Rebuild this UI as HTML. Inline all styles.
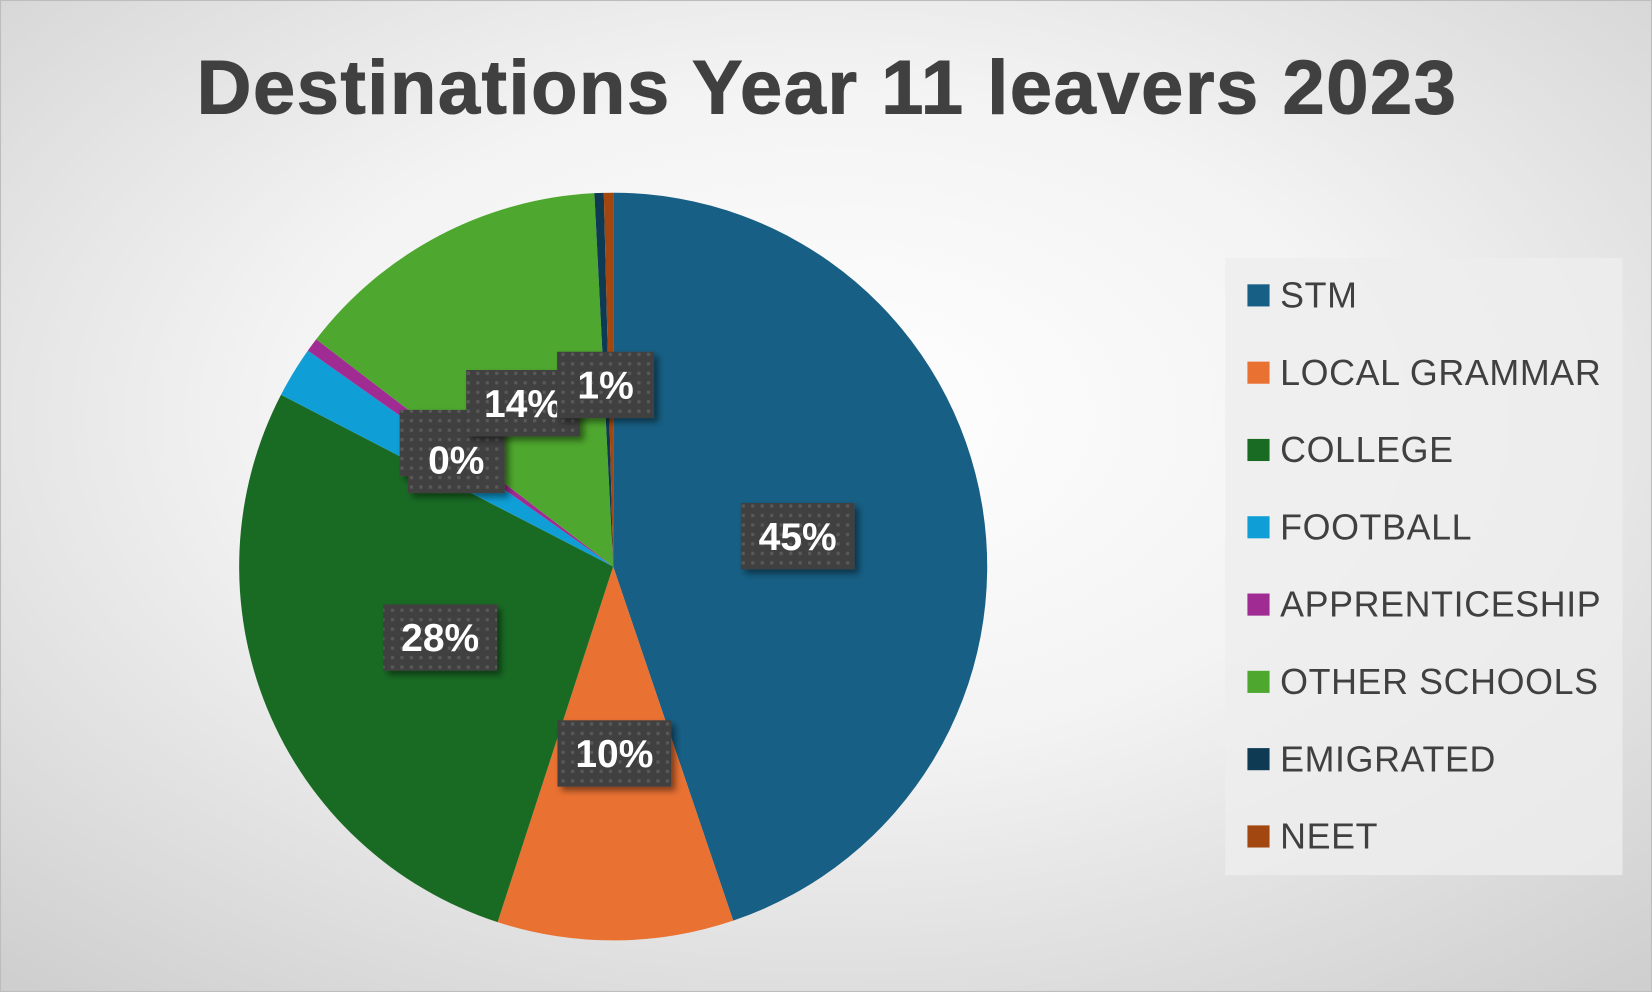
<!DOCTYPE html>
<html><head><meta charset="utf-8"><style>
html,body{margin:0;padding:0;width:1652px;height:992px;overflow:hidden}
svg{display:block}
text{font-family:"Liberation Sans",sans-serif}
</style></head><body>
<svg id="chart" width="1652" height="992" viewBox="0 0 1568 942" preserveAspectRatio="none">
<defs>
<radialGradient id="bg" cx="0.5" cy="0.42" r="0.75">
<stop offset="0" stop-color="#ffffff"/><stop offset="0.45" stop-color="#f3f3f3"/><stop offset="1" stop-color="#cfcfcf"/>
</radialGradient>
<pattern id="dots" width="9" height="9" patternUnits="userSpaceOnUse">
<rect width="9" height="9" fill="#404040"/><rect x="2" y="2" width="3" height="3" fill="#5a5a5a"/>
</pattern>
<filter id="sh" x="-20%" y="-20%" width="150%" height="150%"><feDropShadow dx="4" dy="4" stdDeviation="3" flood-color="#000" flood-opacity="0.45"/></filter>
</defs>
<rect x="0" y="0" width="1568" height="942" fill="url(#bg)" stroke="#bdbdbd" stroke-width="2"/>
<text x="785" y="108" text-anchor="middle" font-size="72" font-weight="bold" letter-spacing="1.5" fill="#404040" stroke="#404040" stroke-width="1">Destinations Year 11 leavers 2023</text>
<g id="slices"></g>
<g id="labels"></g>
<rect x="1163" y="245" width="377" height="586" fill="#eeeeee" opacity="0.8"/>
<g id="legend"></g>
</svg>
<script>
const categories = ["STM","LOCAL GRAMMAR","COLLEGE","FOOTBALL","APPRENTICESHIP","OTHER SCHOOLS","EMIGRATED","NEET"];
const values = [44.8, 10.2, 27.6, 2.2, 0.6, 13.8, 0.4, 0.4];
const valueLabels = ["45%","10%","28%","2%","0%","14%","0%","1%"];
const colors = ["#175f84","#e97132","#196b24","#0f9ed5","#a02b93","#4ea72e","#0e3a54","#a1470f"];
const labelShown = [true,true,true,true,true,true,false,true];
const labelNudge = [[0,0],[0,0],[0,0],[-5,-25],[-6,4],[-3,2],[0,0],[-5,5]];
const NS="http://www.w3.org/2000/svg";
const cx=582, cy=538, r=355;
const total=values.reduce((a,b)=>a+b,0);
const ang=v=>v/total*2*Math.PI;
const pt=(a,rr)=>[cx+rr*Math.sin(a), cy-rr*Math.cos(a)];
const sg=document.getElementById('slices'), lg=document.getElementById('labels'), leg=document.getElementById('legend');
let a0=0; const mids=[];
values.forEach((v,i)=>{
  const a1=a0+ang(v);
  const p0=pt(a0,r), p1=pt(a1,r);
  const p=document.createElementNS(NS,'path');
  p.setAttribute('d',`M${cx},${cy} L${p0[0]},${p0[1]} A${r},${r} 0 ${a1-a0>Math.PI?1:0} 1 ${p1[0]},${p1[1]} Z`);
  p.setAttribute('fill',colors[i]);
  
  
  sg.appendChild(p);
  mids.push((a0+a1)/2); a0=a1;
});
const order=[3,4,0,1,2,5,7];
order.forEach(i=>{
  if(!labelShown[i])return;
  const m=pt(mids[i],r*0.5);
  const x=m[0]+labelNudge[i][0], y=m[1]+labelNudge[i][1];
  const w=valueLabels[i].length>2?108:92, h=63;
  const g=document.createElementNS(NS,'g');
  
  
  const rc=document.createElementNS(NS,'rect');
  rc.setAttribute('x',x-w/2);rc.setAttribute('y',y-h/2);rc.setAttribute('width',w);rc.setAttribute('height',h);
  rc.setAttribute('fill','url(#dots)');rc.setAttribute('filter','url(#sh)');
  g.appendChild(rc);
  const t=document.createElementNS(NS,'text');
  t.setAttribute('x',x);t.setAttribute('y',y+13);t.setAttribute('text-anchor','middle');
  t.setAttribute('font-size','37');t.setAttribute('font-weight','bold');t.setAttribute('fill','#fff');
  t.textContent=valueLabels[i];
  g.appendChild(t);
  lg.appendChild(g);
});
categories.forEach((c,i)=>{
  const y=280+i*73.4;
  const g=document.createElementNS(NS,'g');
  
  
  const s=document.createElementNS(NS,'rect');
  s.setAttribute('x',1184);s.setAttribute('y',y-10);s.setAttribute('width',21);s.setAttribute('height',21);s.setAttribute('fill',colors[i]);
  g.appendChild(s);
  const t=document.createElementNS(NS,'text');
  t.setAttribute('x',1215);t.setAttribute('y',y+12);t.setAttribute('font-size','34');t.setAttribute('letter-spacing','0.6');t.setAttribute('fill','#404040');
  t.textContent=c;
  g.appendChild(t);
  leg.appendChild(g);
});
</script>
</body></html>
